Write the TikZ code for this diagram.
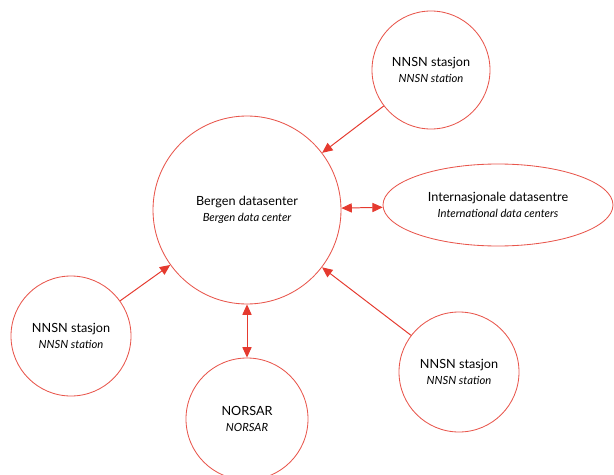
\documentclass[tikz,border=0pt]{standalone}
\usepackage{fontspec}
\setmainfont{Lato}
\usetikzlibrary{
  positioning,
  arrows.meta,
  shapes.geometric
}
\definecolor{link}{HTML}{E53A2F}
\definecolor{rim}{HTML}{E8564C}

\begin{document}
\begin{tikzpicture}[
  site/.style={circle, draw=rim, line width=0.6pt, minimum size=3cm, inner sep=0pt,
               align=center, font=\fontsize{9}{11}\selectfont},
  hub/.style={site, minimum size=4.7cm},
  intlbox/.style={ellipse, draw=rim, line width=0.6pt, minimum width=5.75cm,
                  minimum height=2.05cm, inner sep=0pt, align=center,
                  font=\fontsize{9}{11}\selectfont},
  arr/.style={-{Triangle[length=2.6mm, width=2.3mm]}, link, line width=0.7pt},
  darr/.style={{Triangle[length=2.6mm, width=2.3mm]}-{Triangle[length=2.6mm, width=2.3mm]}, link, line width=0.7pt}
]
  \useasboundingbox (0,0) rectangle (15.35,11.85);

  % Data center
  \node[hub] (bergen) at (6.175, 6.6) {Bergen datasenter\\{\fontsize{8}{10}\selectfont\itshape Bergen data center}};
  \node[intlbox] (intl) at (12.45, 6.725) {Internasjonale datasentre\\{\fontsize{8}{10}\selectfont\itshape International data centers}};

  % Stations
  \node[site, minimum size=2.95cm] (nnsn1) at (10.775, 10.1) {NNSN stasjon\\{\fontsize{8}{10}\selectfont\itshape NNSN station}};
  \node[site] (nnsn2) at (1.775, 3.45) {NNSN stasjon\\{\fontsize{8}{10}\selectfont\itshape NNSN station}};
  \node[site] (nnsn3) at (11.475, 2.55) {NNSN stasjon\\{\fontsize{8}{10}\selectfont\itshape NNSN station}};
  \node[site, minimum size=3.05cm] (norsar) at (6.175, 1.375) {NORSAR\\{\fontsize{8}{10}\selectfont\itshape NORSAR}};

  % Connections
  \draw[arr] (nnsn1) -- (bergen);
  \draw[arr] (nnsn2) -- (bergen);
  \draw[arr] (nnsn3) -- (bergen);
  \draw[darr] (bergen) -- (intl);
  \draw[darr] (bergen) -- (norsar);
\end{tikzpicture}
\end{document}
